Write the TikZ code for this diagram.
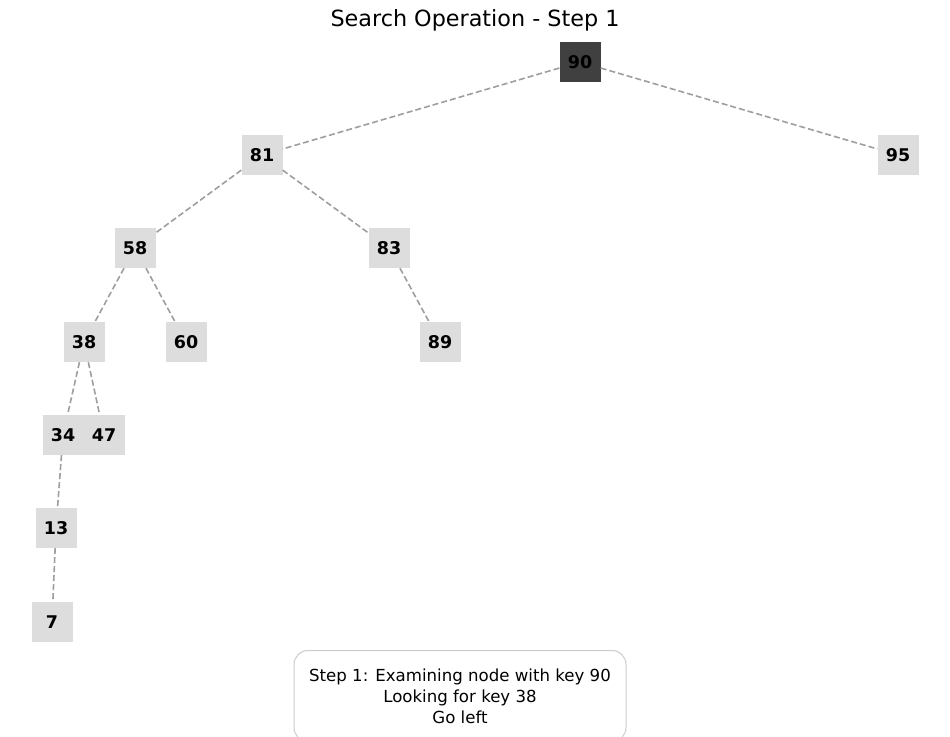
\documentclass[tikz,border=0pt]{standalone}
\usepackage{fontspec}
\setmainfont{DejaVu Sans}
\definecolor{nodegray}{HTML}{DDDDDD}
\definecolor{curgray}{HTML}{404040}
\definecolor{edgegray}{HTML}{9E9E9E}
\definecolor{boxborder}{HTML}{CCCCCC}
\begin{document}
\begin{tikzpicture}[x=1pt,y=-1pt,
  tnode/.style={rectangle, fill=nodegray, minimum width=41pt, minimum height=40pt, inner sep=0pt, font=\fontsize{17.5}{19}\selectfont\bfseries, text=black},
  curnode/.style={tnode, fill=curgray},
  edge/.style={draw=edgegray, line width=1.6pt, dash pattern=on 6pt off 3pt},
  infobox/.style={draw=boxborder, fill=white, rounded corners=14pt, line width=1pt, minimum width=332pt, minimum height=91pt, align=center, font=\fontsize{16.6}{21}\selectfont, anchor=north, text depth=0pt}
]
\useasboundingbox (0,0) rectangle (950,736);
\node[font=\fontsize{22.3}{25}\selectfont] (title) at (475,20.5) {Search Operation - Step 1};
\node[curnode] (n90) at (580,62) {90};
\node[tnode] (n81) at (262,155) {81};
\node[tnode] (n95) at (898,155) {95};
\node[tnode] (n58) at (135,248) {58};
\node[tnode] (n83) at (389,248) {83};
\node[tnode] (n38) at (84,342) {38};
\node[tnode] (n60) at (186,342) {60};
\node[tnode] (n89) at (440,342) {89};
\node[tnode] (n34) at (63,435) {34};
\node[tnode] (n47) at (104,435) {47};
\node[tnode] (n13) at (56,528) {13};
\node[tnode] (n7) at (52,622) {7};
\draw[edge] (n90) -- (n81);
\draw[edge] (n90) -- (n95);
\draw[edge] (n81) -- (n58);
\draw[edge] (n81) -- (n83);
\draw[edge] (n58) -- (n38);
\draw[edge] (n58) -- (n60);
\draw[edge] (n83) -- (n89);
\draw[edge] (n38) -- (n34);
\draw[edge] (n38) -- (n47);
\draw[edge] (n34) -- (n13);
\draw[edge] (n13) -- (n7);
\node[infobox, inner sep=1pt] (info) at (460,650) {\rule{0pt}{8pt}Step 1: Examining node with key 90\\Looking for key 38\\Go left};
\end{tikzpicture}
\end{document}
